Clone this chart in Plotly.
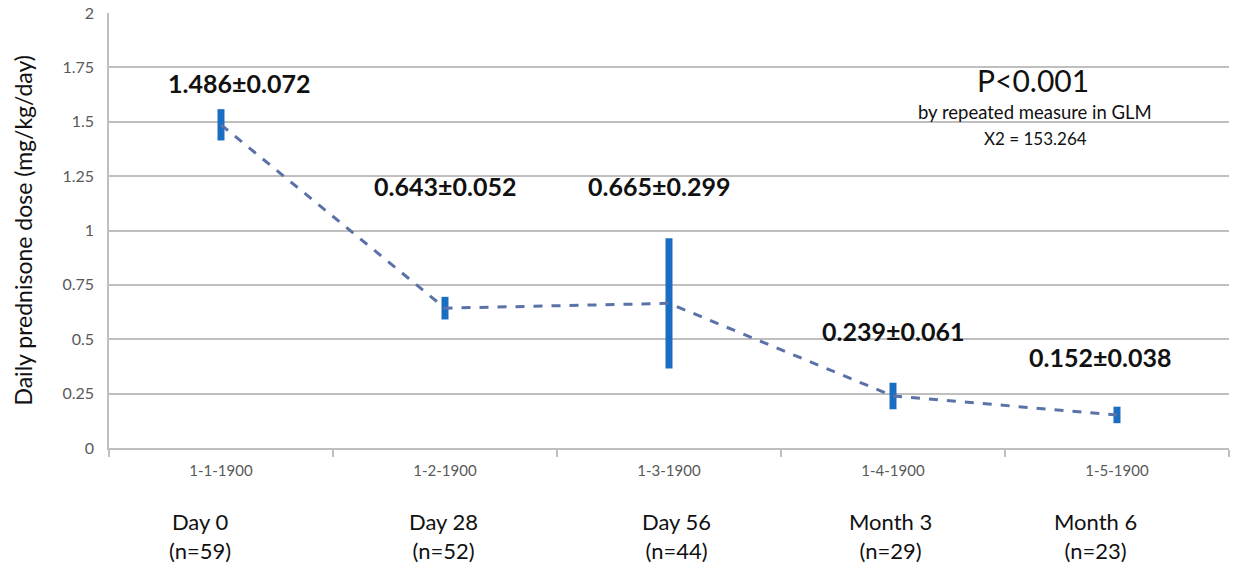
import plotly.graph_objects as go

dates = ["1-1-1900", "1-2-1900", "1-3-1900", "1-4-1900", "1-5-1900"]
timepoints = ["Day 0<br>(n=59)", "Day 28<br>(n=52)", "Day 56<br>(n=44)", "Month 3<br>(n=29)", "Month 6<br>(n=23)"]
means = [1.486, 0.643, 0.665, 0.239, 0.152]
sems = [0.072, 0.052, 0.299, 0.061, 0.038]
value_labels = ["1.486±0.072", "0.643±0.052", "0.665±0.299", "0.239±0.061", "0.152±0.038"]
ytick_vals = [0, 0.25, 0.5, 0.75, 1, 1.25, 1.5, 1.75, 2]
ytick_text = ["0", "0.25", "0.5", "0.75", "1", "1.25", "1.5", "1.75", "2"]

FONT = "Lato"

fig = go.Figure()
fig.add_trace(go.Scatter(
    x=dates, y=means, mode="lines",
    line=dict(color="#5a72a8", width=3, dash="dash"),
    error_y=dict(type="data", array=sems, visible=True, color="#1a6ec2", thickness=7, width=0),
    showlegend=False, hoverinfo="skip",
))

# value labels above points
label_offsets = [(18, 1.68), (0, 1.204), (-10, 1.204), (0, 0.54), (-17, 0.42)]
for d, lab, (dx, yy) in zip(dates, value_labels, label_offsets):
    fig.add_annotation(x=d, y=yy, text=f"<b>{lab}</b>", showarrow=False, xshift=dx,
                       xanchor="center",
                       font=dict(family=FONT, size=25, color="#111111"))

# time point annotations under the axis
tp_shifts = [-21, -2, 7, -3, -22]
for d, tp, dx in zip(dates, timepoints, tp_shifts):
    fig.add_annotation(x=d, y=0, yref="paper", yshift=-88, xshift=dx, text=tp, showarrow=False,
                       font=dict(family=FONT, size=22, color="#111111"), yanchor="middle",
                       xanchor="center", align="center")

fig.add_annotation(x=0.825, xref="paper", y=1.69, text="P<0.001", showarrow=False,
                   xanchor="center",
                   font=dict(family=FONT, size=30, color="#111111"))
fig.add_annotation(x=0.827, xref="paper", y=1.545, text="by repeated measure in GLM", showarrow=False,
                   xanchor="center",
                   font=dict(family=FONT, size=18.5, color="#111111"))
fig.add_annotation(x=0.827, xref="paper", y=1.425, text="X2 = 153.264", showarrow=False,
                   xanchor="center",
                   font=dict(family=FONT, size=17, color="#111111"))

# y-axis title
fig.add_annotation(x=0, xref="paper", y=0.5, yref="paper", xshift=-87, textangle=-90,
                   text="Daily prednisone dose (mg/kg/day)", showarrow=False,
                   xanchor="center", yanchor="middle",
                   font=dict(family=FONT, size=23, color="#111111"))

fig.update_layout(
    width=1236, height=569,
    margin=dict(l=109, r=7, t=13, b=121, autoexpand=False),
    paper_bgcolor="white", plot_bgcolor="white",
    font=dict(family=FONT),
    xaxis=dict(type="category", tickson="boundaries", ticks="outside", ticklen=7,
               tickcolor="#bfbfbf", tickwidth=1.5,
               showline=True, linecolor="#bfbfbf", linewidth=1.5, showgrid=False,
               tickfont=dict(family=FONT, size=15, color="#595959"),
               ticklabelstandoff=8, automargin=False,
               range=[-0.5, 4.5], fixedrange=True),
    yaxis=dict(range=[0, 2], tickvals=ytick_vals, ticktext=ytick_text,
               showgrid=True, gridcolor="#bfbfbf", gridwidth=1.5,
               showline=True, linecolor="#bfbfbf", linewidth=1.5,
               zeroline=False, ticks="", ticklen=0, automargin=False,
               ticklabelstandoff=10, ticklabeloverflow="allow", fixedrange=True,
               tickfont=dict(family=FONT, size=16, color="#595959")),
)

fig.write_html("out.html", config={"displayModeBar": False},
               post_script="document.body.style.margin='0';document.body.style.overflow='hidden';")
